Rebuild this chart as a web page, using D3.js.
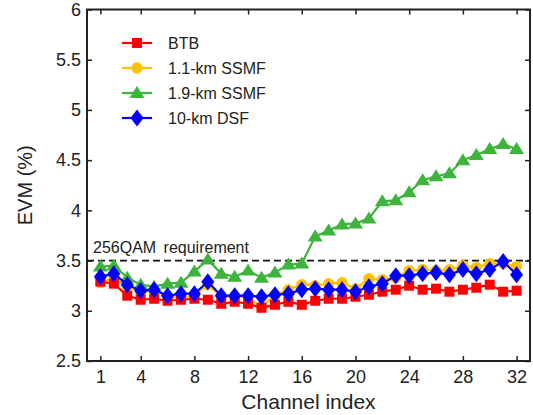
<!doctype html>
<html>
<head>
<meta charset="utf-8">
<title>EVM vs channel index</title>
<style>
  body { margin: 0; background: #fff; }
  text { font-family: "Liberation Sans", Arial, sans-serif; fill: #222; }
</style>
</head>
<body>
<div id="chart-area"></div>
<script src="https://cdn.jsdelivr.net/npm/d3@7"></script>
<script type="text/javascript">
  // data
  var channels = d3.range(1, 33);
  var btb = [3.29, 3.27, 3.15, 3.11, 3.12, 3.10, 3.11, 3.12, 3.11, 3.07, 3.09, 3.07, 3.03, 3.06, 3.09, 3.06,
             3.10, 3.12, 3.12, 3.14, 3.16, 3.19, 3.21, 3.25, 3.21, 3.22, 3.19, 3.21, 3.23, 3.26, 3.19, 3.20];
  var ssmf11 = [3.28, 3.33, 3.24, 3.18, 3.20, 3.14, 3.13, 3.15, 3.26, 3.14, 3.14, 3.13, 3.04, 3.16, 3.21, 3.26,
                3.25, 3.27, 3.28, 3.22, 3.32, 3.31, 3.33, 3.40, 3.41, 3.40, 3.41, 3.45, 3.43, 3.47, 3.47, 3.44];
  var ssmf19 = [3.44, 3.45, 3.33, 3.26, 3.24, 3.27, 3.28, 3.39, 3.51, 3.37, 3.34, 3.40, 3.33, 3.38, 3.46, 3.47,
                3.74, 3.80, 3.86, 3.87, 3.92, 4.09, 4.10, 4.18, 4.30, 4.34, 4.37, 4.50, 4.55, 4.61, 4.66, 4.61];
  var dsf10 = [3.34, 3.37, 3.26, 3.20, 3.21, 3.15, 3.17, 3.17, 3.29, 3.15, 3.15, 3.15, 3.14, 3.16, 3.17, 3.21,
               3.22, 3.21, 3.21, 3.19, 3.24, 3.27, 3.35, 3.35, 3.37, 3.38, 3.36, 3.41, 3.37, 3.41, 3.49, 3.36];
  var seriesNames = ['BTB', '1.1-km SSMF', '1.9-km SSMF', '10-km DSF'];
  var xTicks = [1, 4, 8, 12, 16, 20, 24, 28, 32];
  var yTicks = [2.5, 3, 3.5, 4, 4.5, 5, 5.5, 6];
  var requirement = 3.5;

  var margin = {left: 87, right: 3, top: 9.5, bottom: 54};
  var width = 533 - margin.left - margin.right;
  var height = 415 - margin.top - margin.bottom;

  var svg = d3.select('#chart-area')
      .append('svg')
      .attr('width', 533)
      .attr('height', 415);
  var g = svg.append('g')
      .attr('transform', 'translate(' + margin.left + ',' + margin.top + ')');

  // Scale
  var x = d3.scaleLinear().domain([0, 33]).range([0, width]);
  var y = d3.scaleLinear().domain([2.5, 6]).range([height, 0]);

  // Axes, ticks pointing inwards on all four sides
  g.append('g')
      .attr('transform', 'translate(0,' + height + ')')
      .call(d3.axisBottom(x).tickValues(xTicks).tickSize(-5).tickSizeOuter(0).tickPadding(9));
  g.append('g')
      .call(d3.axisTop(x).tickValues(xTicks).tickSize(-5).tickSizeOuter(0).tickFormat(''));
  g.append('g')
      .call(d3.axisLeft(y).tickValues(yTicks).tickSize(-5).tickSizeOuter(0).tickPadding(6)
          .tickFormat(d3.format('')));
  g.append('g')
      .attr('transform', 'translate(' + width + ',0)')
      .call(d3.axisRight(y).tickValues(yTicks).tickSize(-5).tickSizeOuter(0).tickFormat(''));
  g.selectAll('.tick line').attr('stroke', '#222').attr('stroke-width', 1.5);
  g.selectAll('.domain').remove();
  g.selectAll('.tick text')
      .attr('font-size', '18px')
      .attr('font-family', '"Liberation Sans", Arial, sans-serif')
      .attr('fill', '#222');

  // frame
  g.append('rect')
      .attr('width', width)
      .attr('height', height)
      .attr('fill', 'none')
      .attr('stroke', '#222')
      .attr('stroke-width', 2);

  // Labels
  svg.append('text')
      .attr('transform', 'translate(32,' + (margin.top + height / 2) + ') rotate(-90)')
      .attr('text-anchor', 'middle')
      .attr('font-size', '20px')
      .text('EVM (%)');
  svg.append('text')
      .attr('x', margin.left + width / 2)
      .attr('y', 409)
      .attr('text-anchor', 'middle')
      .attr('font-size', '21px')
      .text('Channel index');

  // requirement line
  g.append('line')
      .attr('x1', 0)
      .attr('x2', width)
      .attr('y1', y(requirement))
      .attr('y2', y(requirement))
      .attr('stroke', '#111')
      .attr('stroke-width', 1.8)
      .attr('stroke-dasharray', '7,4');
  g.append('text')
      .attr('x', 6)
      .attr('y', y(requirement) - 8)
      .attr('font-size', '16px')
      .attr('fill', '#111')
      .attr('word-spacing', '3px')
      .text('256QAM requirement');

  // marker shapes
  function marker(shape) {
    if (shape === 'square') return 'M-5,-5H5V5H-5Z';
    if (shape === 'circle') return d3.symbol(d3.symbolCircle, 100)();
    if (shape === 'triangle') return 'M0,-7L7.5,5L-7.5,5Z';
    return 'M0,-8.5L6.5,0L0,8.5L-6.5,0Z';
  }

  var series = [
    {name: seriesNames[1], values: ssmf11, color: '#ffc000', shape: 'circle'},
    {name: seriesNames[0], values: btb, color: '#ff0000', shape: 'square'},
    {name: seriesNames[2], values: ssmf19, color: '#3db53d', shape: 'triangle'},
    {name: seriesNames[3], values: dsf10, color: '#0000ff', shape: 'diamond'}
  ];

  var line = d3.line()
      .x(function(d, i) { return x(channels[i]); })
      .y(function(d) { return y(d); });

  series.forEach(function(s) {
    var sg = g.append('g');
    sg.append('path')
        .datum(s.values)
        .attr('d', line)
        .attr('fill', 'none')
        .attr('stroke', s.color)
        .attr('stroke-width', 2.2);
    sg.selectAll('path.pt')
        .data(s.values)
        .enter()
        .append('path')
        .attr('class', 'pt')
        .attr('transform', function(d, i) {
          return 'translate(' + x(channels[i]) + ',' + y(d) + ')';
        })
        .attr('d', marker(s.shape))
        .attr('fill', s.color);
  });

  // Legend
  var legendOrder = [
    {name: seriesNames[0], color: '#ff0000', shape: 'square'},
    {name: seriesNames[1], color: '#ffc000', shape: 'circle'},
    {name: seriesNames[2], color: '#3db53d', shape: 'triangle'},
    {name: seriesNames[3], color: '#0000ff', shape: 'diamond'}
  ];
  var legend = svg.append('g');
  var rows = legend.selectAll('g')
      .data(legendOrder)
      .enter()
      .append('g')
      .attr('transform', function(d, i) {
        return 'translate(137,' + (43 + i * 25) + ')';
      });
  rows.append('line')
      .attr('x1', -15)
      .attr('x2', 15)
      .attr('stroke', function(d) { return d.color; })
      .attr('stroke-width', 2.2);
  rows.append('path')
      .attr('d', function(d) { return marker(d.shape); })
      .attr('fill', function(d) { return d.color; });
  rows.append('text')
      .attr('x', 31)
      .attr('y', 6)
      .attr('font-size', '16px')
      .text(function(d) { return d.name; });
</script>
</body>
</html>
